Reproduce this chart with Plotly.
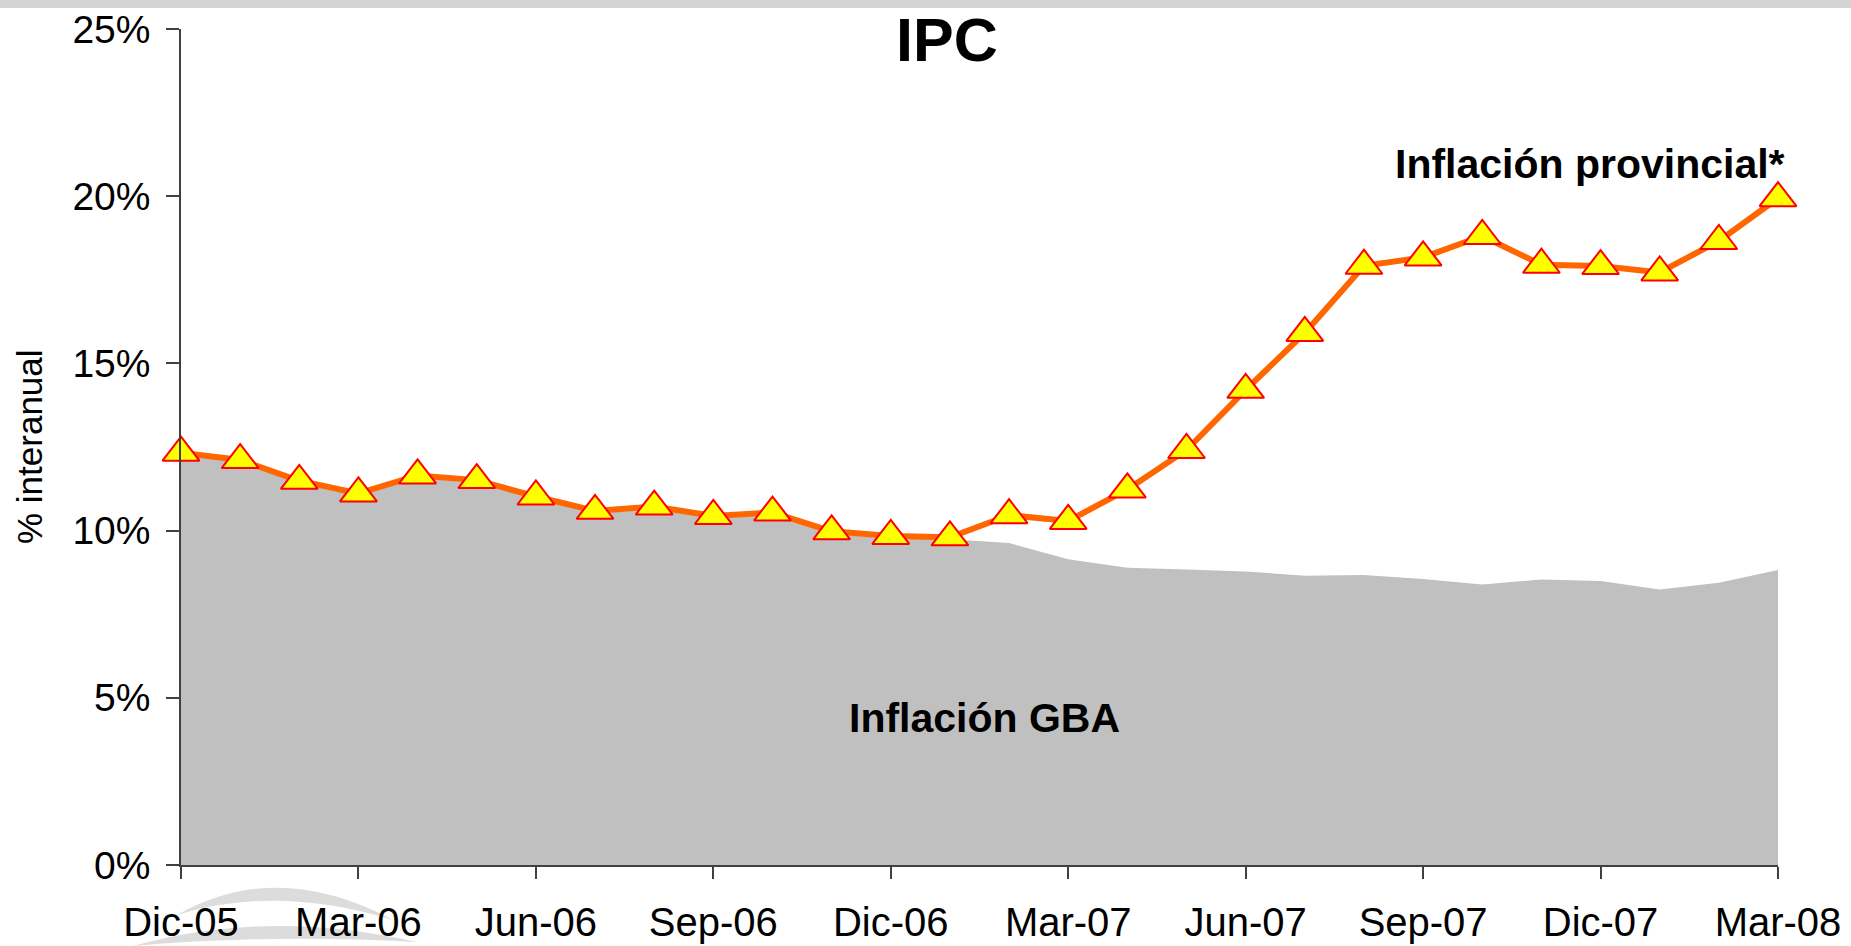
import plotly.graph_objects as go

# ---- data ----
months = ["Dic-05", "Ene-06", "Feb-06", "Mar-06", "Abr-06", "May-06", "Jun-06",
          "Jul-06", "Ago-06", "Sep-06", "Oct-06", "Nov-06", "Dic-06", "Ene-07",
          "Feb-07", "Mar-07", "Abr-07", "May-07", "Jun-07", "Jul-07", "Ago-07",
          "Sep-07", "Oct-07", "Nov-07", "Dic-07", "Ene-08", "Feb-08", "Mar-08"]
provincial = [12.33, 12.11, 11.49, 11.11, 11.65, 11.51, 11.02, 10.59, 10.72, 10.44,
              10.54, 9.98, 9.84, 9.80, 10.46, 10.29, 11.23, 12.41, 14.21, 15.91,
              17.92, 18.17, 18.81, 17.95, 17.91, 17.72, 18.66, 19.94]
gba = [12.25, 12.03, 11.41, 11.03, 11.57, 11.43, 10.94, 10.51, 10.64, 10.36,
       10.46, 9.90, 9.76, 9.74, 9.63, 9.14, 8.89, 8.84, 8.78, 8.65,
       8.67, 8.55, 8.39, 8.54, 8.49, 8.24, 8.44, 8.82]
tick_labels = ["Dic-05", "Mar-06", "Jun-06", "Sep-06", "Dic-06", "Mar-07",
               "Jun-07", "Sep-07", "Dic-07", "Mar-08"]
y_ticks = [0, 5, 10, 15, 20, 25]
y_tick_text = ["0%", "5%", "10%", "15%", "20%", "25%"]

W, H = 1851, 946
L, R, T, B = 181, 1778, 29, 865   # plot area in pixels

def px(x):
    return (x - L) / (R - L)

def py(y):
    return (B - y) / (B - T)

FONT = "Liberation Sans, Arial, sans-serif"

fig = go.Figure()
fig.add_trace(go.Scatter(
    x=months, y=gba, mode="none", fill="tozeroy",
    fillcolor="#C0C0C0", hoverinfo="skip", showlegend=False))
fig.add_trace(go.Scatter(
    x=months, y=provincial, mode="lines+markers",
    line=dict(color="#FF6600", width=6),
    marker=dict(symbol="triangle-up", size=32, color="#FFFF00",
                line=dict(color="#FF0000", width=2)),
    cliponaxis=False, showlegend=False))

shapes = [
    # top grey band
    dict(type="rect", xref="paper", yref="paper", x0=px(0), x1=px(W),
         y0=py(8), y1=py(0), fillcolor="#D4D4D4", line=dict(width=0), layer="below"),
    # faint watermark arcs bottom-left
    dict(type="path", xref="paper", yref="paper", layer="below",
         path=(f"M{px(177)},{py(915)} Q{px(277)},{py(858)} {px(393)},{py(920)} "
               f"Q{px(277)},{py(884)} {px(177)},{py(915)} Z"),
         fillcolor="#DCDCDC", line=dict(width=0)),
    dict(type="path", xref="paper", yref="paper", layer="below",
         path=(f"M{px(133)},{py(946)} Q{px(267)},{py(908)} {px(417)},{py(942)} "
               f"Q{px(267)},{py(934)} {px(133)},{py(946)} Z"),
         fillcolor="#DCDCDC", line=dict(width=0)),
]

annotations = [
    dict(text="<b>IPC</b>", x=px(947), y=py(40), xref="paper", yref="paper",
         showarrow=False, xanchor="center", yanchor="middle",
         font=dict(family=FONT, size=61, color="black")),
    dict(text="<b>Inflación provincial*</b>", x=px(1590), y=py(164), xref="paper",
         yref="paper", showarrow=False, xanchor="center", yanchor="middle",
         font=dict(family=FONT, size=41, color="black")),
    dict(text="<b>Inflación GBA</b>", x=px(984), y=py(718), xref="paper",
         yref="paper", showarrow=False, xanchor="center", yanchor="middle",
         font=dict(family=FONT, size=41, color="black")),
    dict(text="% interanual", x=px(29), y=py(447), xref="paper", yref="paper",
         showarrow=False, xanchor="center", yanchor="middle", textangle=-90,
         font=dict(family=FONT, size=35, color="black")),
]

fig.update_layout(
    width=W, height=H,
    margin=dict(l=L, r=W - R, t=T, b=H - B, pad=0, autoexpand=False),
    paper_bgcolor="white", plot_bgcolor="white",
    shapes=shapes, annotations=annotations,
    font=dict(family=FONT, color="black"),
    xaxis=dict(
        type="category", range=[0, len(months) - 1], automargin=False,
        tickvals=tick_labels, ticktext=tick_labels,
        showgrid=False, zeroline=False, showline=True,
        linecolor="#404040", linewidth=1.5,
        ticks="outside", ticklen=12, tickcolor="#404040", tickwidth=1.5,
        tickfont=dict(family=FONT, size=40, color="black"),
        ticklabelstandoff=9,
    ),
    yaxis=dict(
        range=[0, 25], tickmode="array", tickvals=y_ticks, ticktext=y_tick_text,
        automargin=False,
        showgrid=False, zeroline=False, showline=True,
        linecolor="#404040", linewidth=1.5,
        ticks="outside", ticklen=13, tickcolor="#404040", tickwidth=1.5,
        tickfont=dict(family=FONT, size=39, color="black"),
        ticklabelstandoff=8,
    ),
)

fig.write_html("out.html", config={"displayModeBar": False},
               post_script="document.body.style.margin='0';")
